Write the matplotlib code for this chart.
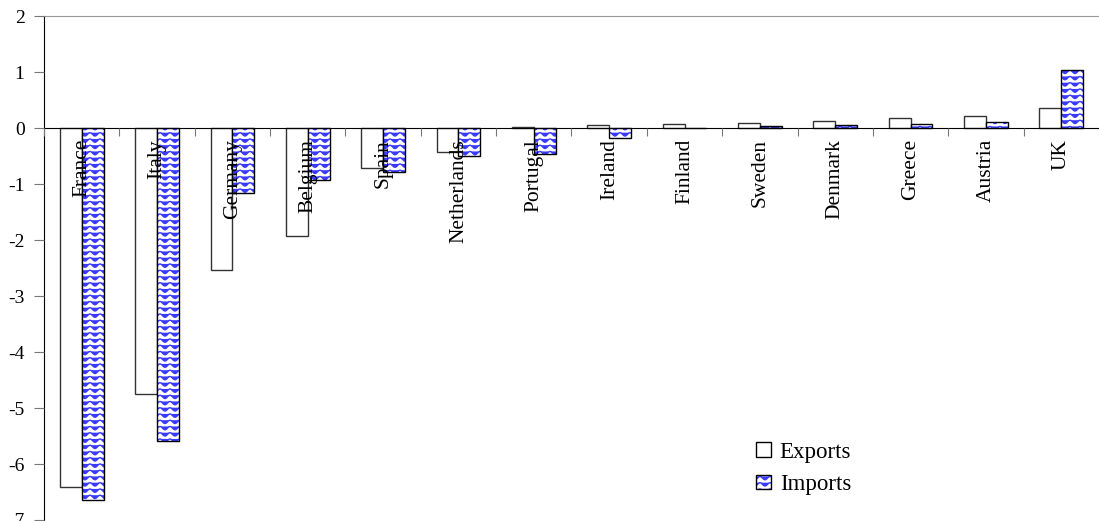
import numpy as np
import matplotlib
matplotlib.use("Agg")
import matplotlib.pyplot as plt
import matplotlib.hatch as mhatch
from matplotlib.path import Path
from matplotlib.patches import Patch
from matplotlib.legend_handler import HandlerTuple

# ---- data ----
countries = ["France", "Italy", "Germany", "Belgium", "Spain", "Netherlands", "Portugal",
             "Ireland", "Finland", "Sweden", "Denmark", "Greece", "Austria", "UK"]
exports = [-6.41, -4.75, -2.54, -1.93, -0.71, -0.43, 0.02, 0.05, 0.07, 0.095, 0.13, 0.17, 0.21, 0.36]
imports = [-6.64, -5.59, -1.16, -0.93, -0.79, -0.50, -0.46, -0.18, 0.0, 0.03, 0.05, 0.07, 0.11, 1.03]
yticks = [2, 1, 0, -1, -2, -3, -4, -5, -6, -7]


# ---- custom wavy hatch ----
class WaveHatch(mhatch.HatchPatternBase):
    def __init__(self, hatch, density):
        self.rows = 16 if "~" in hatch else 0
        self.nper = 10
        self.nseg = self.nper * 8
        self.num_vertices = self.rows * (self.nseg + 1)

    def set_vertices_and_codes(self, vertices, codes):
        t = np.linspace(0.0, 1.0, self.nseg + 1)
        amp = 0.017
        k = 0
        for i in range(self.rows):
            y0 = (i + 0.5) / self.rows
            ys = y0 + amp * np.cos(2 * np.pi * self.nper * t)
            n = self.nseg + 1
            vertices[k:k + n, 0] = t
            vertices[k:k + n, 1] = ys
            codes[k] = Path.MOVETO
            codes[k + 1:k + n] = Path.LINETO
            k += n


mhatch._hatch_types.append(WaveHatch)
mhatch._validate_hatch_pattern = lambda h: None

plt.rcParams["font.family"] = ["Liberation Serif", "DejaVu Serif"]
plt.rcParams["axes.unicode_minus"] = False
plt.rcParams["hatch.linewidth"] = 1.0

BLUE = "#3a3aff"

fig = plt.figure(figsize=(10.99, 5.21), dpi=100)
ax = fig.add_axes([44 / 1099, 1 - 520 / 521, 1 - 44 / 1099, (520 - 16) / 521])
ax.set_axisbelow(False)

n = len(countries)
x = np.arange(n)
w = 0.29
# exports
ax.bar(x - w / 2, exports, width=w, facecolor="white", edgecolor="#333333", linewidth=1.0, zorder=1.5)
# imports: hatch layer and edge layer
ax.bar(x + w / 2, imports, width=w, facecolor="white", edgecolor=BLUE, hatch="~", linewidth=0, zorder=1.5)
ax.bar(x + w / 2, imports, width=w, fill=False, edgecolor="black", linewidth=1.0, zorder=1.6)

ax.set_xlim(-0.5, n - 0.5)
ax.set_ylim(-7, 2)
ax.set_yticks(yticks)
ax.set_yticklabels([str(v) for v in yticks])
ax.tick_params(axis="y", direction="out", length=7, color="#777777", labelsize=14, pad=7)

ax.spines["bottom"].set_position(("data", 0))
ax.spines["bottom"].set_color("black")
ax.spines["right"].set_visible(False)
ax.spines["top"].set_color("#999999")
ax.spines["left"].set_color("black")

ax.set_xticks(np.arange(n + 1) - 0.5)
ax.set_xticklabels([])
ax.tick_params(axis="x", which="major", direction="out", length=6, color="#777777")
ax.set_xticks(x, minor=True)
ax.set_xticklabels(countries, minor=True, rotation=90, fontsize=15.5, va="top", ha="center")
ax.tick_params(axis="x", which="minor", length=0, pad=8)

h_exp = Patch(facecolor="white", edgecolor="black", linewidth=1.0)
h_imp_hatch = Patch(facecolor="white", edgecolor=BLUE, hatch="~", linewidth=0)
h_imp_edge = Patch(fill=False, edgecolor="black", linewidth=1.0)
leg = ax.legend([h_exp, (h_imp_hatch, h_imp_edge)], ["Exports", "Imports"],
                handler_map={tuple: HandlerTuple(ndivide=1)},
                loc="upper left", bbox_to_anchor=(735 / 1099, 1 - 421 / 521),
                bbox_transform=fig.transFigure, frameon=False, fontsize=16.5,
                handlelength=0.65, handleheight=0.6, handletextpad=0.4, labelspacing=0.5)

fig.savefig("out.png", dpi=100)
